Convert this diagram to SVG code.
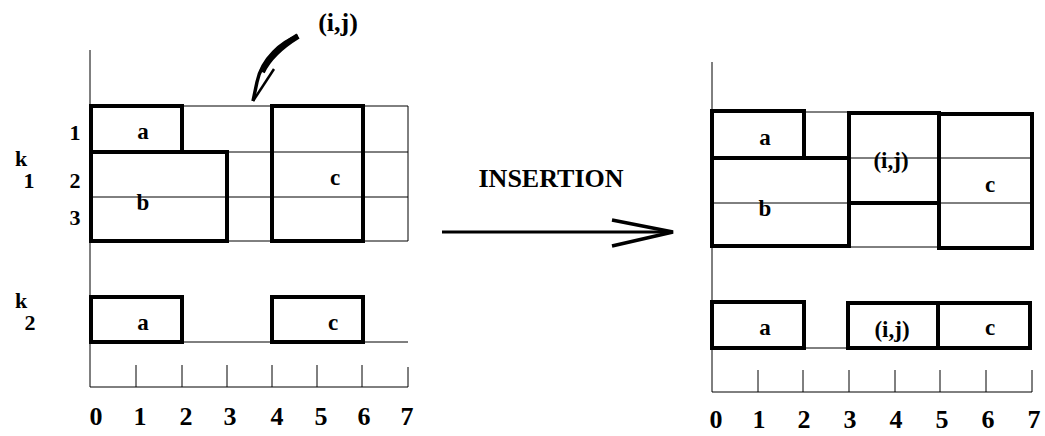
<svg xmlns="http://www.w3.org/2000/svg" width="1045" height="436" viewBox="0 0 1045 436">
<style>
.thin{stroke:#000;stroke-width:1;fill:none}
.thick{stroke:#000;stroke-width:4;fill:none}
.t{font-family:"Liberation Serif","Times New Roman",serif;font-weight:bold;fill:#000;text-anchor:middle}
.lbl{font-size:23px}
.row{font-size:22px}
.num{font-size:26px}
</style>
<rect width="1045" height="436" fill="#fff"/>

<!-- LEFT DIAGRAM -->
<g id="left-grid">
<line class="thin" x1="90" y1="50" x2="90" y2="387"/>
<line class="thin" x1="91" y1="106" x2="408" y2="106"/>
<line class="thin" x1="91" y1="152" x2="408" y2="152"/>
<line class="thin" x1="91" y1="197" x2="408" y2="197"/>
<line class="thin" x1="91" y1="241" x2="408" y2="241"/>
<line class="thin" x1="408" y1="106" x2="408" y2="241"/>
<line class="thin" x1="91" y1="342" x2="408" y2="342"/>
<line class="thin" x1="90" y1="387" x2="408" y2="387"/>
<path class="thin" d="M136,365V387M182,365V387M227,365V387M272,365V387M317,365V387M362,365V387M408,367V387"/>
</g>
<g id="left-k1-a"><rect class="thick" x="91" y="106" width="91" height="46"/><text class="t lbl" x="143" y="139">a</text></g>
<g id="left-k1-b"><rect class="thick" x="91" y="152" width="136" height="89"/><text class="t lbl" x="143" y="210">b</text></g>
<g id="left-k1-c"><rect class="thick" x="272" y="106" width="91" height="135"/><text class="t lbl" x="335" y="185">c</text></g>
<g id="left-k2-a"><rect class="thick" x="91" y="297" width="91" height="45"/><text class="t lbl" x="143" y="330">a</text></g>
<g id="left-k2-c"><rect class="thick" x="272" y="297" width="91" height="45"/><text class="t lbl" x="333" y="330">c</text></g>

<g id="left-labels">
<text class="t row" x="75" y="140">1</text>
<text class="t row" x="75" y="188">2</text>
<text class="t row" x="75" y="225">3</text>
<text class="t row" x="21" y="166">k</text>
<text class="t row" x="29" y="188">1</text>
<text class="t row" x="21" y="308">k</text>
<text class="t row" x="30" y="330">2</text>
<text class="t num" x="96" y="425">0</text>
<text class="t num" x="140" y="425">1</text>
<text class="t num" x="186" y="425">2</text>
<text class="t num" x="230" y="425">3</text>
<text class="t num" x="277" y="425">4</text>
<text class="t num" x="321" y="425">5</text>
<text class="t num" x="364" y="425">6</text>
<text class="t num" x="407" y="425">7</text>
</g>

<g id="ij-pointer">
<text class="t num" x="338" y="31">(i,j)</text>
<path d="M298,36 C282,42 262,58 257,82 L253,101" fill="none" stroke="#000" stroke-width="3.5"/>
<path d="M298,36 C285,44 270,55 262,72" fill="none" stroke="#000" stroke-width="6"/>
<line x1="253" y1="101" x2="274" y2="69" stroke="#000" stroke-width="2.5"/>
</g>

<!-- CONNECTOR -->
<g id="connectors">
<line x1="442" y1="232" x2="671" y2="232" stroke="#000" stroke-width="3"/>
<polyline points="612,220 673,232 612,246" fill="none" stroke="#000" stroke-width="3.5" stroke-linejoin="miter"/>
<text class="t" x="551" y="187" font-size="26px">INSERTION</text>
</g>

<!-- RIGHT DIAGRAM -->
<g id="right-grid">
<line class="thin" x1="712" y1="62" x2="712" y2="392"/>
<line class="thin" x1="804" y1="112" x2="849" y2="112"/>
<line class="thin" x1="712" y1="158" x2="1032" y2="158"/>
<line class="thin" x1="712" y1="203" x2="1032" y2="203"/>
<line class="thin" x1="849" y1="247" x2="939" y2="247"/>
<line class="thin" x1="804" y1="348" x2="849" y2="348"/>
<line class="thin" x1="712" y1="392" x2="1032" y2="392"/>
<path class="thin" d="M758,370V392M803,370V392M849,370V392M895,370V392M940,370V392M986,370V392M1032,370V392"/>
</g>
<g id="right-k1-a"><rect class="thick" x="712" y="111" width="92" height="47"/><text class="t lbl" x="765" y="145">a</text></g>
<g id="right-k1-b"><rect class="thick" x="712" y="158" width="137" height="88"/><text class="t lbl" x="765" y="216">b</text></g>
<g id="right-k1-ij"><rect class="thick" x="849" y="113" width="90" height="90"/><text class="t lbl" x="891" y="168">(i,j)</text></g>
<g id="right-k1-c"><rect class="thick" x="939" y="114" width="93" height="134"/><text class="t lbl" x="990" y="192">c</text></g>
<g id="right-k2-a"><rect class="thick" x="712" y="302" width="92" height="46"/><text class="t lbl" x="765" y="335">a</text></g>
<g id="right-k2-ij"><rect class="thick" x="848" y="303" width="90" height="45"/><text class="t lbl" x="892" y="337">(i,j)</text></g>
<g id="right-k2-c"><rect class="thick" x="938" y="303" width="92" height="45"/><text class="t lbl" x="990" y="335">c</text></g>

<g id="right-labels">
<text class="t num" x="716" y="428">0</text>
<text class="t num" x="759" y="428">1</text>
<text class="t num" x="804" y="428">2</text>
<text class="t num" x="850" y="428">3</text>
<text class="t num" x="896" y="428">4</text>
<text class="t num" x="942" y="428">5</text>
<text class="t num" x="988" y="428">6</text>
<text class="t num" x="1034" y="428">7</text>
</g>
</svg>
